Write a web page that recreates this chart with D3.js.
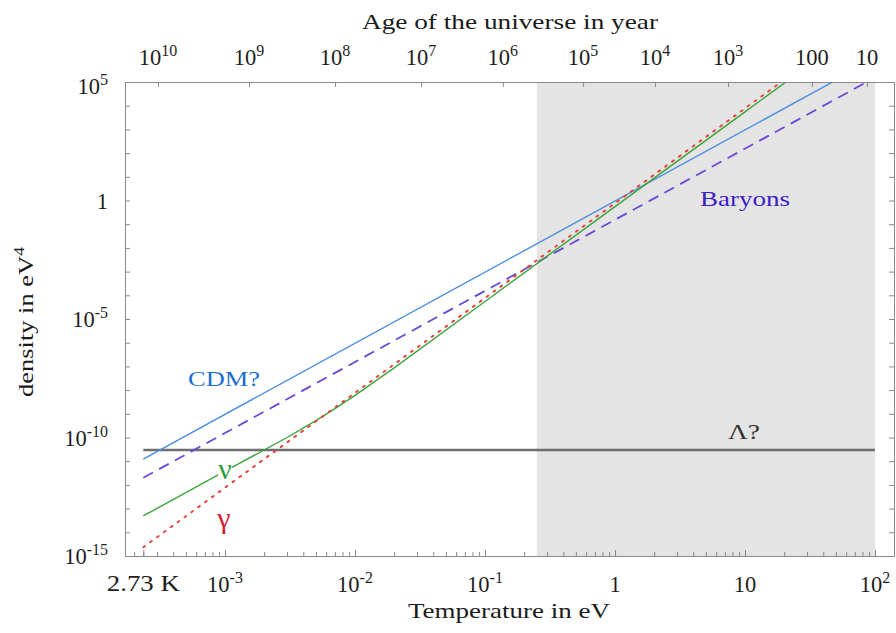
<!DOCTYPE html>
<html><head><meta charset="utf-8">
<script src="https://cdn.jsdelivr.net/npm/d3@7"></script>
<style>
body{margin:0;background:#fff}
text{font-family:"Liberation Serif","Times New Roman",serif;}
</style>
</head><body>
<svg id="c" width="896" height="633"></svg>
<script>
// ---------------- DATA ----------------
const T0 = 2.35e-4; // 2.73 K expressed in eV
// series: temperature (eV) and energy density (eV^4)
const lambdaT   = [2.35e-4, 100];
const lambdaRho = [2.95e-11, 2.95e-11];
const cdmT      = [2.35e-4, 100];
const cdmRho    = [1.23e-11, 9.5e5];
const baryonT   = [2.35e-4, 100];
const baryonRho = [2.0e-12, 1.54e5];
const photonT   = [2.35e-4, 100];
const photonRho = [2.34e-15, 7.7e7];
const nuT       = [2.35e-4, 1e-3, 3e-3, 5e-3, 7e-3, 1e-2, 2e-2, 0.1, 1, 10, 100];
const nuRho     = [4.9e-14, 3.8e-12, 1.0e-10, 5.2e-10, 1.66e-9, 6.0e-9, 8.7e-8, 5.5e-5, 0.55, 5.5e3, 5.5e7];
// shaded temperature band
const shadeT = [0.25, 100];
// axis ticks
const tempTicks = [1e-3, 1e-2, 1e-1, 1, 10, 100];
const tempTickLabels = [["10","-3"],["10","-2"],["10","-1"],["1",""],["10",""],["10","2"]];
const ageTickT = [3.05e-4, 1.53e-3, 7.02e-3, 3.22e-2, 0.137, 0.568, 2.03, 7.40, 32.7, 86.7];
const ageTickLabels = [["10","10"],["10","9"],["10","8"],["10","7"],["10","6"],["10","5"],["10","4"],["10","3"],["100",""],["10",""]];
const densTicks = [1e5, 1, 1e-5, 1e-10, 1e-15];
const densTickLabels = [["10","5"],["1",""],["10","-5"],["10","-10"],["10","-15"]];

// ---------------- LAYOUT ----------------
const L = 125, R = 894, TOP = 82, BOT = 556;
const svg = d3.select("#c");
const x = d3.scaleLog().domain([1.7e-4, 140]).range([L, R]);
const y = d3.scaleLog().domain([1e-15, 1e5]).range([BOT, TOP]);

// shaded band
svg.append("rect")
  .attr("x", x(shadeT[0])).attr("y", TOP)
  .attr("width", x(shadeT[1]) - x(shadeT[0])).attr("height", BOT - TOP)
  .attr("fill", "#e4e4e4");

// clip
svg.append("clipPath").attr("id","pc").append("rect")
  .attr("x", L).attr("y", TOP).attr("width", R-L).attr("height", BOT-TOP);

const line = d3.line().x(d => x(d[0])).y(d => y(d[1]));
const zip = (a,b) => a.map((v,i)=>[v,b[i]]);
const g = svg.append("g").attr("clip-path","url(#pc)");

g.append("path").attr("d", line(zip(lambdaT, lambdaRho)))
  .attr("fill","none").attr("stroke","#6e6e6e").attr("stroke-width",2.4);
g.append("path").attr("d", line(zip(baryonT, baryonRho)))
  .attr("fill","none").attr("stroke","#6a48d8").attr("stroke-width",1.8)
  .attr("stroke-dasharray","11,7");
g.append("path").attr("d", line(zip(cdmT, cdmRho)))
  .attr("fill","none").attr("stroke","#4a8ede").attr("stroke-width",1.4);
g.append("path").attr("d", line(zip(nuT, nuRho)))
  .attr("fill","none").attr("stroke","#3aa53a").attr("stroke-width",1.4);
g.append("path").attr("d", line(zip(photonT, photonRho)))
  .attr("fill","none").attr("stroke","#e8453f").attr("stroke-width",2)
  .attr("stroke-dasharray","2,6.5").attr("stroke-linecap","round");

// ---------------- AXES ----------------
const axisColor = "#8a8a8a";
function styleAxis(sel){
  sel.selectAll("path.domain").attr("stroke", axisColor);
  sel.selectAll(".tick line").attr("stroke", axisColor);
  sel.selectAll(".tick text").remove();
}
const minorT = x.ticks().filter(v => v >= 1.7e-4 && v <= 100);
svg.append("g").attr("transform",`translate(0,${BOT})`)
  .call(d3.axisBottom(x).tickValues(minorT.concat([T0])).tickSizeInner(-4).tickSizeOuter(0))
  .call(styleAxis);
svg.append("g").attr("transform",`translate(0,${BOT})`)
  .call(d3.axisBottom(x).tickValues(tempTicks.concat([T0])).tickSizeInner(-6).tickSizeOuter(0))
  .call(styleAxis);
svg.append("g").attr("transform",`translate(0,${TOP})`)
  .call(d3.axisTop(x).tickValues(ageTickT).tickSizeInner(-5).tickSizeOuter(0))
  .call(styleAxis);
const decades = d3.range(-15, 6).map(e => Math.pow(10, e));
svg.append("g").attr("transform",`translate(${L},0)`)
  .call(d3.axisLeft(y).tickValues(decades).tickSizeInner(-5).tickSizeOuter(0))
  .call(styleAxis);
svg.append("g").attr("transform",`translate(${R},0)`)
  .call(d3.axisRight(y).tickValues(decades).tickSizeInner(-5).tickSizeOuter(0))
  .call(styleAxis);

function supText(sel, parts, size, supSize){
  sel.append("tspan").text(parts[0]).attr("font-size", size);
  if (parts[1]) sel.append("tspan").text(parts[1]).attr("font-size", supSize).attr("dy", -9);
}
const tc = "#1e1e1e";
tempTicks.forEach((v,i) => {
  const t = svg.append("text").attr("x", x(v)).attr("y", 592).attr("text-anchor","middle").attr("fill",tc);
  supText(t, tempTickLabels[i], 22.5, 16);
});
svg.append("text").attr("x", x(T0)).attr("y", 591).attr("text-anchor","middle").attr("fill",tc)
  .attr("font-size",22.5).attr("textLength",73).attr("lengthAdjust","spacingAndGlyphs").text("2.73 K");
ageTickT.forEach((v,i) => {
  const t = svg.append("text").attr("x", x(v)).attr("y", 65).attr("text-anchor","middle").attr("fill",tc);
  supText(t, ageTickLabels[i], 22.5, 16);
});
densTicks.forEach((v,i) => {
  const t = svg.append("text").attr("x", 108).attr("y", Math.max(y(v)+8, TOP+12)).attr("text-anchor","end").attr("fill",tc);
  supText(t, densTickLabels[i], 22.5, 16);
});

// axis titles
svg.append("text").attr("x", 510).attr("y", 29).attr("text-anchor","middle").attr("fill","#1a1a1a")
  .attr("font-size",21).attr("textLength",296).attr("lengthAdjust","spacingAndGlyphs")
  .text("Age of the universe in year");
svg.append("text").attr("x", 509).attr("y", 618).attr("text-anchor","middle").attr("fill","#1a1a1a")
  .attr("font-size",21).attr("textLength",202).attr("lengthAdjust","spacingAndGlyphs")
  .text("Temperature in eV");
const yl = svg.append("text").attr("transform","translate(33,322) rotate(-90)").attr("text-anchor","middle")
  .attr("fill","#1a1a1a").attr("font-size",21).attr("textLength",150).attr("lengthAdjust","spacingAndGlyphs");
yl.append("tspan").text("density in eV");
yl.append("tspan").text("4").attr("font-size",14).attr("dy",-9);

// series labels
svg.append("text").attr("x",188).attr("y",386).attr("fill","#1f6fd0").attr("font-size",22)
  .attr("textLength",72).attr("lengthAdjust","spacingAndGlyphs").text("CDM?");
svg.append("text").attr("x",700).attr("y",206).attr("fill","#3b20c4").attr("font-size",22)
  .attr("textLength",90).attr("lengthAdjust","spacingAndGlyphs").text("Baryons");
const nuLab = svg.append("text").attr("x",225).attr("y",479).attr("text-anchor","middle")
  .attr("fill","#2b9b3b").attr("font-size",30).text("ν");
const bb = nuLab.node().getBBox();
svg.insert("rect", () => nuLab.node())
  .attr("x", bb.x).attr("y", bb.y + bb.height*0.3).attr("width", bb.width).attr("height", bb.height*0.55)
  .attr("fill","#fff");
svg.append("text").attr("x",224).attr("y",528).attr("text-anchor","middle")
  .attr("fill","#d42030").attr("font-size",30).text("γ");
svg.append("text").attr("x",728).attr("y",439).attr("fill","#333").attr("font-size",21)
  .attr("textLength",32).attr("lengthAdjust","spacingAndGlyphs").text("Λ?");
</script>
</body></html>
